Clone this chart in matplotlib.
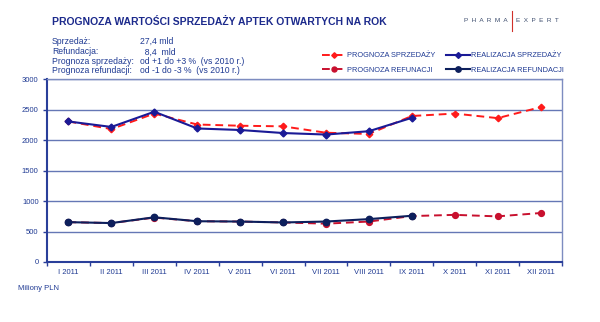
import numpy as np
import matplotlib
matplotlib.use("Agg")
import matplotlib.pyplot as plt
from matplotlib.lines import Line2D

plt.rcParams['font.family'] = ['Liberation Sans', 'DejaVu Sans']

# --- data (mln PLN) ---
months = ["I 2011", "II 2011", "III 2011", "IV 2011", "V 2011", "VI 2011",
          "VII 2011", "VIII 2011", "IX 2011", "X 2011", "XI 2011", "XII 2011"]
sales_forecast = [2310, 2185, 2440, 2260, 2240, 2230, 2125, 2105, 2400, 2440, 2365, 2545]
sales_actual = [2310, 2220, 2470, 2195, 2170, 2120, 2095, 2150, 2370]
refund_forecast = [655, 640, 730, 670, 665, 650, 630, 665, 755, 775, 750, 805]
refund_actual = [655, 640, 735, 670, 665, 650, 665, 705, 760]

info_labels = ["Sprzedaż:", "Refundacja:", "Prognoza sprzedaży:", "Prognoza refundacji:"]
info_values = ["27,4 mld", "  8,4  mld", "od +1 do +3 %  (vs 2010 r.)", "od -1 do -3 %  (vs 2010 r.)"]

W, H = 600, 322
RED = '#ff1a1a'
DARKRED = '#c8102e'
BLUE = '#1a1a96'
NAVY = '#0d1f5c'
AXBLUE = '#2a3f9a'
GRID = '#6577b5'
TXT = '#1f3a93'


def fx(x):
    return x / W


def fy(y):
    return 1 - y / H


fig = plt.figure(figsize=(W / 100, H / 100), dpi=100)
ax = fig.add_axes([fx(47), fy(262), (562 - 47) / W, (262 - 79.5) / H])

x = np.arange(len(months))
ax.plot(x, sales_forecast, color=RED, ls=(0, (4, 2.5)), lw=1.4, marker='D', ms=3.3,
        label='PROGNOZA SPRZEDAŻY', zorder=3)
ax.plot(x, refund_forecast, color=DARKRED, ls=(0, (4, 2.5)), lw=1.4, marker='o', ms=4.2,
        label='PROGNOZA REFUNACJI', zorder=3)
ax.plot(x[:len(sales_actual)], sales_actual, color=BLUE, lw=1.5, marker='D', ms=3.5,
        label='REALIZACJA SPRZEDAŻY', zorder=4)
ax.plot(x[:len(refund_actual)], refund_actual, color=NAVY, lw=1.5, marker='o', ms=4.6,
        label='REALIZACJA REFUNDACJI', zorder=4)

ax.set_xlim(-0.5, len(months) - 0.5)
ax.set_ylim(0, 3000)
ax.set_yticks(np.arange(0, 3001, 500))
ax.yaxis.grid(True, color=GRID, lw=1.0)
ax.set_axisbelow(True)

# category ticks at boundaries, labels centred
ax.set_xticks(np.arange(-0.5, len(months), 1.0))
ax.set_xticklabels([])
ax.set_xticks(x, minor=True)
ax.set_xticklabels(months, minor=True)
ax.tick_params(axis='x', which='major', length=3, width=1, color=AXBLUE, direction='out')
ax.tick_params(axis='x', which='minor', length=0, pad=5, labelsize=5.5, labelcolor=TXT)
ax.tick_params(axis='y', length=3, width=1, color=AXBLUE, labelsize=5.5, labelcolor=TXT, pad=3)

for side in ['left', 'bottom']:
    ax.spines[side].set_color(AXBLUE)
    ax.spines[side].set_linewidth(1.5)
for side in ['top', 'right']:
    ax.spines[side].set_color('#7d8cc0')
    ax.spines[side].set_linewidth(1.0)

# header
fig.text(fx(52), fy(22), "PROGNOZA WARTOŚCI SPRZEDAŻY APTEK OTWARTYCH NA ROK",
         fontsize=7.5, fontweight='bold', color='#1c2a8c', va='center', ha='left')
fig.text(fx(508), fy(20), "P  H  A  R  M  A", fontsize=4.6, color='#3d4d6e', va='center', ha='right')
fig.text(fx(516), fy(20), "E  X  P  E  R  T", fontsize=4.6, color='#3d4d6e', va='center', ha='left')
fig.add_artist(Line2D([fx(511.5), fx(511.5)], [fy(11), fy(31)], color='#d0302a', lw=0.8))

rows_y = [44, 54.5, 64, 73]
for lab, val, yy in zip(info_labels, info_values, rows_y):
    fig.text(fx(52), fy(yy), lab, fontsize=6.2, color=TXT, va='baseline', ha='left')
    fig.text(fx(140), fy(yy), val, fontsize=6.2, color=TXT, va='baseline', ha='left')

handles, labels = ax.get_legend_handles_labels()
fig.legend(handles, labels, ncol=2, frameon=False, loc='upper left',
           bbox_to_anchor=(fx(322), fy(52)), fontsize=5.3, labelcolor=TXT,
           handlelength=3.2, handletextpad=0.2, columnspacing=1.5, labelspacing=1.05,
           markerscale=0.85, borderpad=0, borderaxespad=0)

fig.text(fx(18), fy(288), "Miliony PLN", fontsize=5.5, color=TXT, va='center', ha='left')

fig.savefig("out.png", dpi=100)
